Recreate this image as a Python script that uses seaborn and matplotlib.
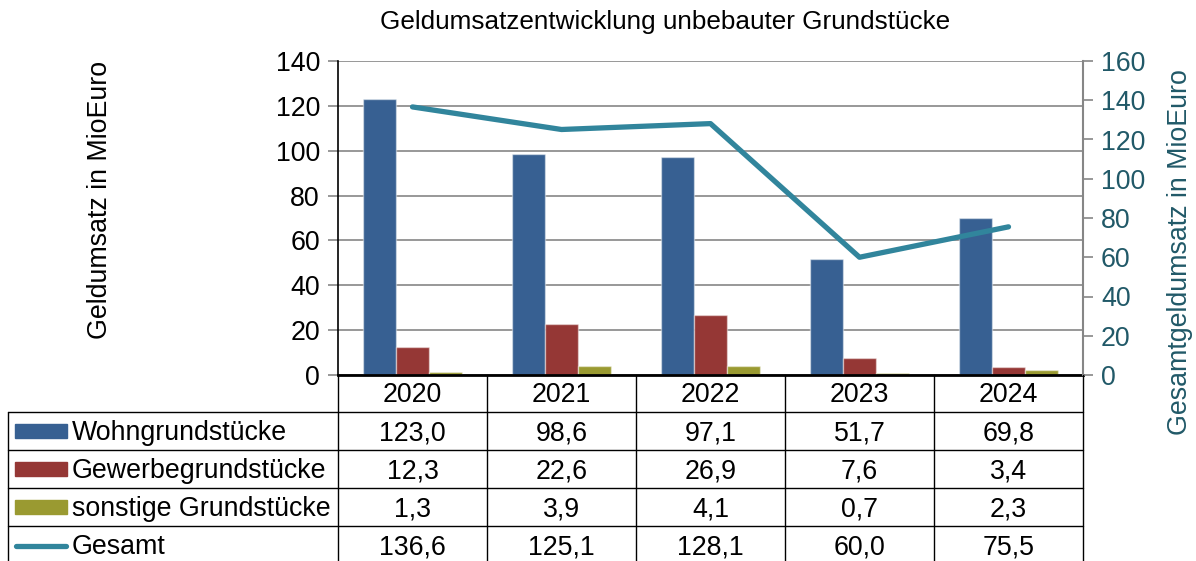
"""
Geldumsatzentwicklung unbebauter Grundstuecke: gruppierte Balken mit
Gesamtlinie auf zweiter Achse und Datentabelle darunter (Excel-Stil).
"""
import matplotlib as mpl
import matplotlib.pyplot as plt
from matplotlib.lines import Line2D
from matplotlib.patches import Rectangle
import seaborn as sns
import numpy as np
import pandas as pd

# Data
years = ["2020", "2021", "2022", "2023", "2024"]
wohn = [123.0, 98.6, 97.1, 51.7, 69.8]
gewerbe = [12.3, 22.6, 26.9, 7.6, 3.4]
sonstige = [1.3, 3.9, 4.1, 0.7, 2.3]
gesamt = [136.6, 125.1, 128.1, 60.0, 75.5]
series_names = ["Wohngrundstücke", "Gewerbegrundstücke", "sonstige Grundstücke"]
line_name = "Gesamt"

# Colours
BAR_COLORS = ["#376092", "#953735", "#9a9a31"]
LINE_COLOR = "#31859c"
RIGHT_TEXT = "#215968"
GRID = "#868686"

sns.set_theme(style="white")
plt.rcParams["font.family"] = ["Liberation Sans", "DejaVu Sans"]
plt.rcParams["text.color"] = "black"
FS = 19.3

df = pd.DataFrame({
    "Jahr": years * 3,
    "Serie": np.repeat(series_names, len(years)),
    "Wert": wohn + gewerbe + sonstige,
})
df_line = pd.DataFrame({"Jahr": years, "Gesamt": gesamt})

fig = plt.figure(figsize=(11.96, 5.61), dpi=100)
W, H = 1196, 561
ax = fig.add_axes([338 / W, 1 - 375 / H, (1083 - 338) / W, (375 - 61) / H])

sns.barplot(data=df, x="Jahr", y="Wert", hue="Serie", palette=BAR_COLORS,
            width=0.67, gap=0, ax=ax, legend=False, saturation=1,
            edgecolor=(1, 1, 1, 0.45), linewidth=1)
ax.set_xlim(-0.5, len(years) - 0.5)
ax.set_ylim(0, 140)
ax.set_yticks(np.arange(0, 141, 20))
ax.yaxis.grid(True, color=GRID, linewidth=1.2)
ax.set_axisbelow(True)
ax.set(xlabel=None, ylabel=None)
ax.set_xticks([])
ax.tick_params(axis="y", labelsize=FS, colors=GRID, labelcolor="black",
               length=7, width=1.2, left=True, pad=6)
for s in ["top", "right"]:
    ax.spines[s].set_visible(False)
ax.spines["left"].set_color("black")
ax.spines["left"].set_linewidth(1.2)
ax.spines["bottom"].set_color("black")
ax.spines["bottom"].set_linewidth(2)

ax2 = ax.twinx()
sns.lineplot(data=df_line, x="Jahr", y="Gesamt", color=LINE_COLOR,
             linewidth=3.8, ax=ax2, solid_capstyle="round")
ax2.set_ylim(0, 160)
ax2.set_yticks(np.arange(0, 161, 20))
ax2.set(xlabel=None, ylabel=None)
ax2.set_xticks([])
ax2.tick_params(axis="y", labelsize=FS, colors=GRID, labelcolor=RIGHT_TEXT,
                length=7, width=1.2, right=True, pad=6)
for s in ["top", "left", "bottom"]:
    ax2.spines[s].set_visible(False)
ax2.spines["right"].set_color(GRID)
ax2.spines["right"].set_linewidth(1.5)
ax2.set_xlim(-0.5, len(years) - 0.5)

# Titles and axis labels
fig.text(665 / W, 1 - 22 / H, "Geldumsatzentwicklung unbebauter Grundstücke",
         ha="center", va="center", fontsize=18.8)
fig.text(100 / W, 1 - 200 / H, "Geldumsatz in MioEuro", rotation=90,
         ha="center", va="center", fontsize=FS)
fig.text(1180 / W, 1 - 252 / H, "Gesamtgeldumsatz in MioEuro", rotation=90,
         ha="center", va="center", fontsize=FS, color=RIGHT_TEXT)

# Data table below the axes
x_left = 8 / W
pos = ax.get_position()
col_edges = pos.x0 + np.arange(len(years) + 1) / len(years) * pos.width
row_edges = [375, 412, 450, 488, 526, 565]
ry = [1 - r / H for r in row_edges]
text_dy = 2 / H  # text sits a touch lower in its cell


def hline(x0, x1, y):
    fig.add_artist(Line2D([x0, x1], [y, y], color="black", linewidth=1,
                          transform=fig.transFigure))


def vline(x, y0, y1):
    fig.add_artist(Line2D([x, x], [y0, y1], color="black", linewidth=1,
                          transform=fig.transFigure))


for y in ry[1:5]:
    hline(x_left, col_edges[-1], y)
vline(x_left, ry[1], 0)
for x in col_edges:
    vline(x, ry[0], 0)

centers = (col_edges[:-1] + col_edges[1:]) / 2
for cx, yr in zip(centers, years):
    fig.text(cx, (ry[0] + ry[1]) / 2 - text_dy, yr, ha="center", va="center",
             fontsize=FS)

rows = [wohn, gewerbe, sonstige, gesamt]
labels = series_names + [line_name]
for i, (vals, lab) in enumerate(zip(rows, labels)):
    yc = (ry[i + 1] + ry[i + 2]) / 2
    if i < 3:
        fig.add_artist(Rectangle((15 / W, yc - 7 / H), 52 / W, 14 / H,
                                 color=BAR_COLORS[i], transform=fig.transFigure))
    else:
        fig.add_artist(Line2D([16 / W, 66 / W], [yc, yc], color=LINE_COLOR,
                              linewidth=3.8, solid_capstyle="round",
                              transform=fig.transFigure))
    fig.text(72 / W, yc - text_dy, lab, ha="left", va="center", fontsize=FS)
    for cx, v in zip(centers, vals):
        fig.text(cx, yc - text_dy, f"{v:.1f}".replace(".", ","), ha="center",
                 va="center", fontsize=FS)

fig.savefig("out.png", dpi=100)
